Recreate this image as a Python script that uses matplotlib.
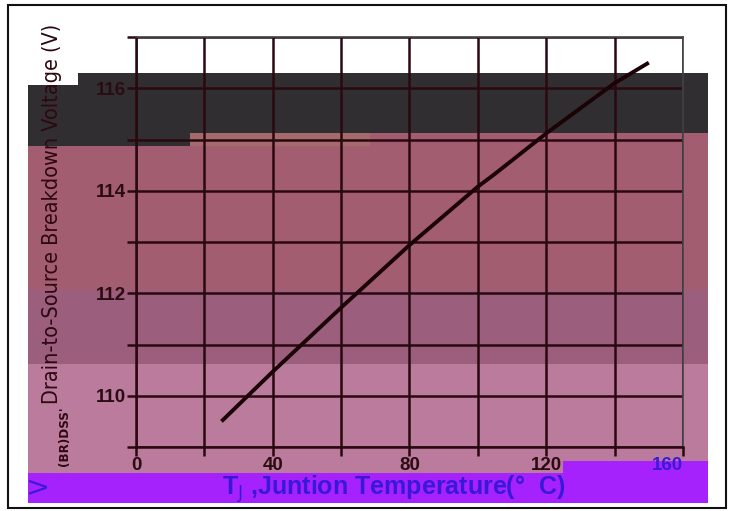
import matplotlib
matplotlib.use("Agg")
import matplotlib.pyplot as plt
from matplotlib.patches import Rectangle
from matplotlib import font_manager

# Data
temp_c = [25, 40, 60, 80, 100, 105, 120, 140, 150]
v_brdss = [109.5, 110.47, 111.72, 112.94, 114.08, 114.33, 115.12, 116.1, 116.5]
x_tick_labels = ["0", "", "40", "", "80", "", "120", "", "160"]
y_tick_labels = ["", "110", "", "112", "", "114", "", "116", ""]

W, H = 734, 511
plt.rcParams['font.family'] = ['Liberation Sans', 'DejaVu Sans']
names = {f.name for f in font_manager.fontManager.ttflist}
stretches = {(f.name, f.stretch) for f in font_manager.fontManager.ttflist}
if 'Liberation Sans Narrow' in names:
    narrow = dict(family=['Liberation Sans Narrow', 'DejaVu Sans'])
elif any(n == 'DejaVu Sans' and s != 'normal' for n, s in stretches):
    narrow = dict(family=['DejaVu Sans'], fontstretch='condensed')
else:
    narrow = dict(family=['Roboto', 'DejaVu Sans'])

fig = plt.figure(figsize=(W / 100, H / 100), dpi=100)
fig.patch.set_facecolor('white')


def rect(x0, y0, x1, y1, color, z=-5):
    fig.add_artist(Rectangle((x0 / W, 1 - y1 / H), (x1 - x0) / W, (y1 - y0) / H,
                             transform=fig.transFigure, facecolor=color,
                             edgecolor='none', zorder=z))


# coloured bands of the scanned image
rect(28, 85, 78, 146, '#312e31')
rect(78, 73, 708, 133, '#312e31')
rect(78, 133, 190, 146, '#312e31')
rect(190, 133, 370, 146, '#a56a6c')
rect(370, 133, 708, 146, '#a35d70')
rect(28, 146, 708, 290, '#a35d70')
rect(28, 290, 708, 364, '#9c5e7d')
rect(28, 364, 708, 474, '#bb7b9d')
rect(28, 473, 563, 503, '#a522fc')
rect(563, 461, 708, 503, '#a522fc')

# outer frame
fig.add_artist(Rectangle((8 / W, 1 - 508 / H), (726 - 8) / W, (508 - 5) / H,
                         transform=fig.transFigure, facecolor='none',
                         edgecolor='#111111', linewidth=1.5, zorder=-4))

ax = fig.add_axes([136 / W, 1 - 447 / H, (683 - 136) / W, (447 - 37) / H])
ax.set_facecolor('none')
ax.set_xlim(0, 160)
ax.set_ylim(109, 117)
ax.set_xticks(range(0, 161, 20))
ax.set_yticks(range(109, 118))
ax.set_xticklabels(x_tick_labels[:-1] + [""])
ax.set_yticklabels(y_tick_labels)
grid_c = '#2a0810'
ax.grid(True, color=grid_c, linewidth=1.8)
ax.tick_params(direction='out', length=6.5, width=1.8, color=grid_c,
               labelsize=13.5, labelcolor='#2a0c12', pad=1)
for lab in ax.get_xticklabels() + ax.get_yticklabels():
    lab.set_fontweight('bold')
for s in ['left', 'bottom']:
    ax.spines[s].set_color(grid_c)
    ax.spines[s].set_linewidth(1.8)
for s in ['top', 'right']:
    ax.spines[s].set_color('#444444')
    ax.spines[s].set_linewidth(1.2)

ax.plot(temp_c, v_brdss, color='#1a0206', linewidth=2.8, solid_capstyle='butt', zorder=5)

# 160 label tinted blue by the overlay
fig.text(667 / W, 1 - 466 / H, x_tick_labels[-1], ha='center', va='center',
         fontsize=13.5, fontweight='bold', color='#3a1ad8')

# axis labels
fig.text(394 / W, 1 - 489 / H, "T$_{\\mathrm{J}}$ ,Juntion Temperature(°  C)",
         ha='center', va='center', fontsize=18, fontweight='bold', color='#3a18d8')
fig.text(52 / W, 1 - 214 / H, "Drain-to-Source Breakdown Voltage (V)",
         ha='center', va='center', rotation=90, fontsize=15.5, color='#2e0810',
         fontweight='medium', **narrow)
fig.text(65 / W, 1 - 436 / H, "(BR)DSS'", ha='center', va='center', rotation=90,
         fontsize=9.5, color='#2e0810', fontweight='bold', **narrow)
fig.text(41 / W, 1 - 486 / H, "V", ha='center', va='center', rotation=90,
         fontsize=18, color='#3a18d8', **narrow)

fig.savefig('out.png', dpi=100)
